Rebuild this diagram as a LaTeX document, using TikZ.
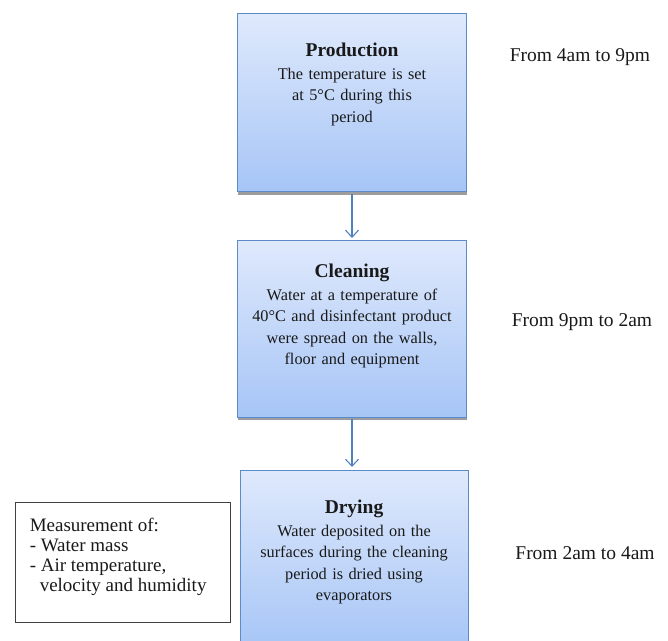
\documentclass[tikz,border=0pt]{standalone}
\usepackage{fontspec}
\setmainfont{Liberation Serif}
\usepackage{tikz}
\usetikzlibrary{positioning,arrows.meta,shadows}
\usepackage{xcolor}
\definecolor{stageline}{HTML}{5B8BC8}
\definecolor{stagetop}{HTML}{DFE9FC}
\definecolor{stagebottom}{HTML}{A6C5F6}
\definecolor{flowblue}{HTML}{4F81BD}

\begin{document}
\begin{tikzpicture}[x=1pt,y=1pt,
  stage/.style={draw=stageline, line width=1pt, top color=stagetop, bottom color=stagebottom,
    minimum width=229pt, inner sep=0pt,
    drop shadow={shadow xshift=0.8pt, shadow yshift=-2.6pt, fill=black!70, opacity=0.55}},
  stagetext/.style={align=center, inner sep=0pt, text width=215pt, text=black!90,
    font=\fontsize{16.3}{21.5}\selectfont},
  flow/.style={draw=flowblue, line width=1.1pt, -{Straight Barb[length=7pt,width=13pt]}},
  timelabel/.style={inner sep=0pt, text=black!90, font=\fontsize{19.5}{23}\selectfont}]
\useasboundingbox (0,0) rectangle (668,640);

% Production stage
\node[stage, minimum height=178pt] (prod) at (352,537) {};
\node[stagetext, below=29pt of prod.north] (prodtext)
  {{\fontsize{19.5}{23}\selectfont\bfseries Production}\\[1.5pt]
   The temperature is set\\ at 5°C during this\\ period};
\node[timelabel] (prodtime) at (580,583) {From 4am to 9pm};

% Cleaning stage
\node[stage, minimum height=176pt] (clean) at (352,311) {};
\node[stagetext, below=23pt of clean.north] (cleantext)
  {{\fontsize{19.5}{23}\selectfont\bfseries Cleaning}\\[1.5pt]
   Water at a temperature of\\ 40°C and disinfectant product\\ were spread on the walls,\\ floor and equipment};
\node[timelabel] (cleantime) at (582,318) {From 9pm to 2am};

% Drying stage (runs off the bottom edge)
\node[stage, minimum width=228pt, minimum height=180pt] (dry) at (354,80) {};
\node[stagetext, below=30pt of dry.north] (drytext)
  {{\fontsize{19.5}{23}\selectfont\bfseries Drying}\\[1.5pt]
   Water deposited on the\\ surfaces during the cleaning\\ period is dried using\\ evaporators};
\node[timelabel] (drytime) at (585,87) {From 2am to 4am};

% Arrows between stages
\draw[flow, shorten <=2pt, shorten >=2.5pt] (prod.south) -- (clean.north);
\draw[flow, shorten <=1pt, shorten >=2.5pt] (clean.south) -- (clean.south |- dry.north);

% Measurements
\node[draw=black!75, line width=0.9pt, minimum width=215pt, minimum height=120pt] (meas) at (122.5,78) {};
\node[align=left, inner sep=0pt, text=black!90, font=\fontsize{19}{20}\selectfont,
  below right=16pt and 15pt of meas.north west] (meastext)
  {Measurement of:\\ - Water mass\\ - Air temperature,\\ \hspace*{10pt}velocity and humidity};
\end{tikzpicture}
\end{document}
